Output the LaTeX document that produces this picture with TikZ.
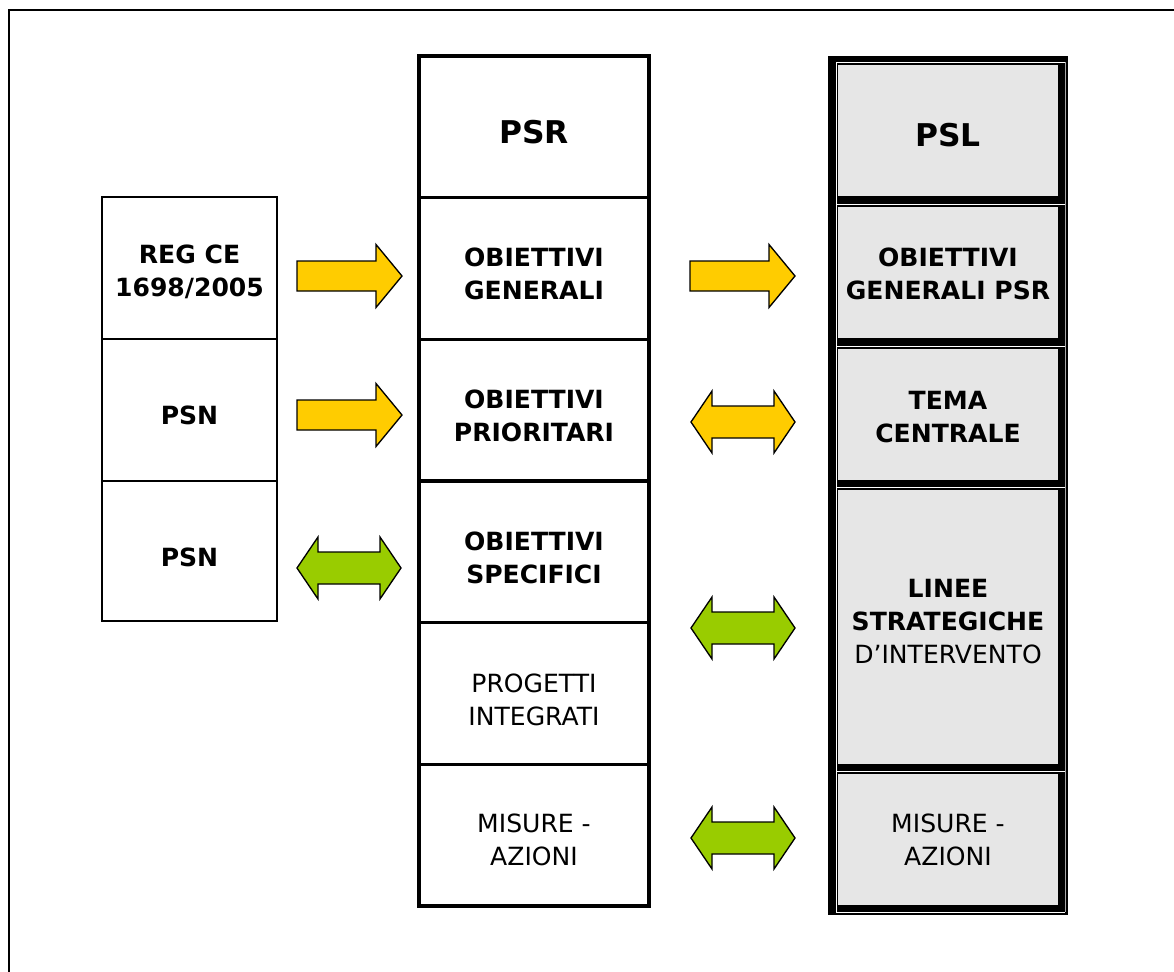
\documentclass[tikz,border=0pt]{standalone}
\usepackage{fontspec}
\setmainfont{DejaVu Sans}
\definecolor{ygold}{HTML}{FFCC00}
\definecolor{lgreen}{HTML}{99CC00}
\definecolor{cellgray}{HTML}{E6E6E6}
\newcommand\myRArr[3]{%
  \filldraw[fill=#3,draw=black,line width=1pt,line join=miter]
   (#1,#2-15) -- (#1+79,#2-15) -- (#1+79,#2-31.5) -- (#1+105,#2)
   -- (#1+79,#2+31.5) -- (#1+79,#2+15) -- (#1,#2+15) -- cycle;}
\newcommand\myDArr[3]{%
  \filldraw[fill=#3,draw=black,line width=1pt,line join=miter]
   (#1,#2) -- (#1+21,#2-31) -- (#1+21,#2-16) -- (#1+83,#2-16) -- (#1+83,#2-31)
   -- (#1+104,#2) -- (#1+83,#2+31) -- (#1+83,#2+16) -- (#1+21,#2+16)
   -- (#1+21,#2+31) -- cycle;}
\begin{document}
\begin{tikzpicture}[x=0.75pt,y=-0.75pt,
  lbl/.style={align=center,font=\fontsize{18.8}{24.75}\selectfont\bfseries,inner sep=0pt},
  lblr/.style={align=center,font=\fontsize{18.8}{24.75}\selectfont,inner sep=0pt},
  big/.style={font=\fontsize{23.5}{28}\selectfont\bfseries,inner sep=0pt},
  thinbox/.style={draw=black,line width=1.1pt},
  midbox/.style={draw=black,line width=2.4pt},
  gcell/.style={fill=cellgray}]
\useasboundingbox (0,0) rectangle (1174,971);
% outer frame (clipped at right and bottom)
\draw[line width=2pt] (9,975) -- (9,10) -- (1180,10);

% left column
\draw[thinbox] (102,197) rectangle (277,621);
\draw[thinbox] (102,339) -- (277,339);
\draw[thinbox] (102,481) -- (277,481);
\node[lbl] (reg) at (189.5,272) {REG CE\\1698/2005};
\node[lbl] (psn1) at (189.5,415) {PSN};
\node[lbl] (psn2) at (189.5,557) {PSN};

% middle column
\draw[midbox] (419,56) rectangle (649,906);
\foreach \yy in {197.7,339.3,481,622.7,764.3}
  \draw[midbox] (419,\yy) -- (649,\yy);
\node[big] (psr) at (534,132) {PSR};
\node[lbl] (og) at (534,274) {OBIETTIVI\\GENERALI};
\node[lbl] (op) at (534,416) {OBIETTIVI\\PRIORITARI};
\node[lbl] (os) at (534,558) {OBIETTIVI\\SPECIFICI};
\node[lblr] (pi) at (534,700) {PROGETTI\\INTEGRATI};
\node[lblr] (ma) at (534,840) {MISURE -\\AZIONI};

% right column
\fill[black] (828,56) rectangle (1068,915);
\draw[white,line width=0.5pt] (836,62) -- (836,912);
\draw[gray!70,line width=0.5pt] (1065,62) -- (1065,912);
\foreach \yy in {62,204,346,487,771,912}
  \draw[white,line width=0.5pt] (836,\yy) -- (1065,\yy);
\fill[gcell] (838,65) rectangle (1058,196);
\fill[gcell] (838,207) rectangle (1058,338);
\fill[gcell] (838,349) rectangle (1058,480);
\fill[gcell] (838,490) rectangle (1058,764);
\fill[gcell] (838,774) rectangle (1058,905);
\node[big] (psl) at (948,135) {PSL};
\node[lbl] (ogp) at (948,274) {OBIETTIVI\\GENERALI PSR};
\node[lbl] (tema) at (948,417) {TEMA\\CENTRALE};
\node[lbl] (linee) at (948,622) {LINEE\\STRATEGICHE\\{\mdseries D’INTERVENTO}};
\node[lblr] (mar) at (948,840) {MISURE -\\AZIONI};

% arrows
\myRArr{297}{276}{ygold}
\myRArr{297}{415}{ygold}
\myDArr{297}{568}{lgreen}
\myRArr{690}{276}{ygold}
\myDArr{691}{422}{ygold}
\myDArr{691}{628}{lgreen}
\myDArr{691}{838}{lgreen}
\end{tikzpicture}
\end{document}
